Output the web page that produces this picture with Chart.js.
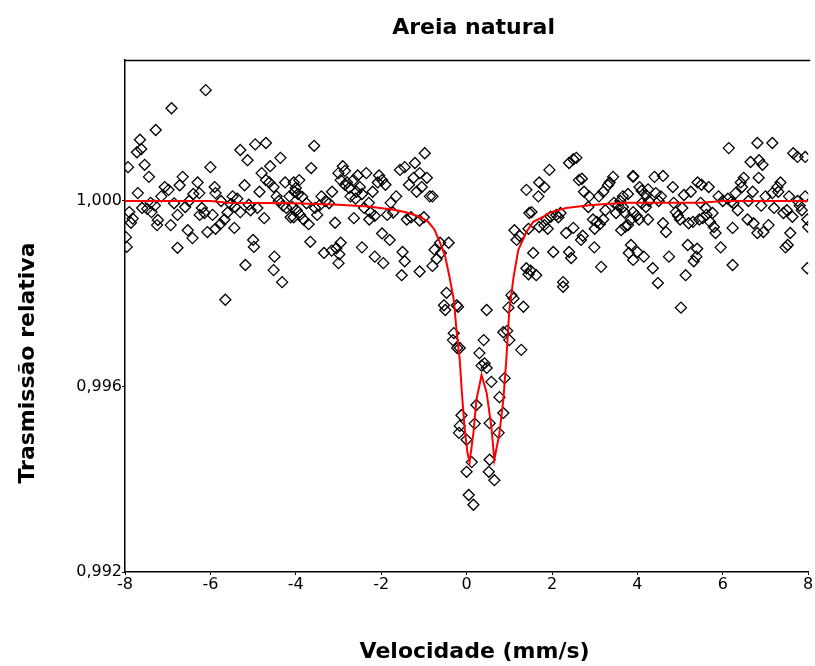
<!DOCTYPE html>
<html>
<head>
<meta charset="utf-8">
<script src="https://cdn.jsdelivr.net/npm/chart.js@4/dist/chart.umd.min.js"></script>
<style>
  body { margin: 0; background: #fff; }
  #wrap { width: 815px; height: 666px; }
</style>
</head>
<body>
<div id="wrap"><canvas id="spectrum" width="815" height="666"></canvas></div>
<script>
// Mossbauer spectrum - natural sand
var chartTitle = "Areia natural";
var xTitle = "Velocidade (mm/s)";
var yTitle = "Trasmissão relativa";

var xTicks = [-8, -6, -4, -2, 0, 2, 4, 6, 8];
var yTicks = [0.992, 0.996, 1.000];

// measured points (velocity mm/s, relative transmission)
var velocity = [
  -6.11,-6.91,-7.28,-7.65,-7.72,-7.62,-7.54,-7.93,-7.44,-7.70,-7.90,-7.82,-7.86,-7.98,-7.96,-7.07,-6.98,-6.65,-6.72,-6.30,
  -6.26,-6.40,-7.40,-7.30,-7.48,-7.38,-7.23,-7.25,-6.93,-6.77,-6.59,-6.53,-6.42,-6.77,-6.25,-6.14,-5.95,-6.07,-5.88,-5.77,
  -5.67,-6.00,-5.90,-5.88,-5.65,-5.48,-5.37,-5.42,-5.52,-5.44,-5.30,-5.20,-5.30,-5.13,-4.95,-4.70,-4.60,-4.36,-4.80,-4.70,
  -4.62,-4.52,-5.06,-4.90,-4.74,-5.00,-4.98,-5.18,-4.50,-4.52,-4.32,-4.40,-4.30,-4.22,-4.12,-4.15,-4.03,
  -3.57,-3.64,-3.92,-4.05,-4.00,-3.95,-3.85,-4.08,-3.98,-4.05,-3.90,-3.82,-3.70,-3.66,-3.55,-3.45,-3.30,-3.22,-3.50,-3.08,
  -3.34,-3.16,-3.05,-2.98,-2.95,-3.00,-3.00,-2.90,-2.85,-2.95,-2.85,-2.75,-2.65,-2.55,-2.35,-2.72,-2.60,-2.45,-2.50,-2.58,
  -2.64,-2.45,-2.15,-1.95,-2.25,-2.15,-2.28,-2.29,-2.05,-1.98,-1.90,-2.08,-1.98,-1.80,-1.78,-1.72,-1.86,-1.56,-1.45,-1.21,
  -0.98,-1.10,-1.24,-0.93,-1.17,-0.86,-0.80,-1.40,-1.30,-1.10,-1.00,-1.50,-1.52,-1.45,-1.10,-0.80,-0.70,-0.60,-0.75,-0.62,
  -0.42,-0.47,-0.23,-0.53,
  -0.50,-0.20,0.47,-0.30,-0.32,-0.22,-0.16,0.40,0.30,0.35,0.42,0.47,0.58,0.89,0.77,0.23,0.19,-0.12,-0.16,-0.18,
  0.54,0.75,0.86,0.00,0.12,0.00,0.54,0.52,0.65,0.05,0.16,0.86,0.95,1.00,1.28,1.05,1.33,
  0.98,1.10,2.26,2.26,1.40,1.50,1.63,1.45,1.56,1.12,1.17,1.24,1.45,1.70,1.82,1.90,2.03,2.33,2.50,2.68,
  2.72,2.40,2.45,1.87,1.97,2.10,2.20,2.15,1.47,1.68,1.82,1.52,1.40,1.70,1.94,2.40,2.57,2.50,2.63,2.70,
  2.87,2.85,2.99,3.15,2.96,3.05,3.00,3.12,3.20,3.10,3.20,3.31,3.35,3.43,3.45,3.50,3.55,3.60,3.66,3.66,
  3.78,3.90,3.62,3.72,3.85,3.80,3.90,
  6.14,6.81,7.16,7.65,7.75,7.93,6.65,6.85,6.93,3.90,4.40,4.60,4.05,4.10,4.20,4.25,4.43,4.50,4.27,4.20,
  3.90,3.98,4.04,4.25,3.78,3.85,4.15,4.00,4.36,4.48,4.74,4.83,5.09,4.85,4.90,5.00,4.95,4.60,4.67,5.02,
  5.13,5.18,5.40,5.32,5.38,5.20,5.30,5.45,5.53,5.62,5.76,5.70,5.79,5.83,5.41,5.50,5.67,5.48,5.95,6.23,
  6.00,6.12,6.20,6.30,6.42,6.49,6.45,6.84,6.70,6.35,6.58,6.72,6.81,6.95,7.07,7.00,7.16,7.28,7.35,7.30,
  6.23,7.42,7.50,7.63,7.47,7.52,7.58,7.75,7.80,7.93,7.98,8.00,7.98,
  -7.60,-7.15,-6.85,-6.50,-6.20,-5.75,-5.60,-5.10,-4.85,-4.45,-4.25,-3.75,-3.40,-3.15,-2.80,-2.40,-2.20,-1.65,-1.35,-1.05,
  2.75,3.25,3.70,4.10,4.55,5.05,5.25,5.60,5.90,6.25,6.60,6.90,7.20,7.55,7.85
];
var transmission = [
  1.00239,1.00200,1.00153,1.00132,1.00105,1.00112,1.00078,1.00073,1.00052,1.00017,0.99976,0.99962,0.99953,0.99922,0.99901,1.00030,1.00024,1.00052,1.00034,1.00040,
  1.00017,1.00015,0.99996,0.99990,0.99983,0.99976,0.99959,0.99948,0.99948,0.99970,0.99987,0.99937,0.99920,0.99899,0.99970,0.99974,0.99970,0.99933,0.99940,0.99950,
  0.99960,1.00073,1.00030,1.00017,0.99787,1.00010,1.00005,0.99987,0.99993,0.99942,0.99976,1.00034,1.00110,1.00088,1.00122,1.00125,1.00075,1.00093,1.00060,1.00045,
  1.00040,1.00030,0.99980,0.99985,0.99963,0.99916,0.99901,0.99862,0.99880,0.99851,0.99825,1.00000,0.99990,0.99985,0.99965,1.00010,1.00020,
  1.00119,1.00071,1.00045,1.00040,1.00028,1.00015,1.00009,0.99987,0.99980,0.99965,0.99970,0.99960,0.99950,0.99912,0.99985,0.99990,1.00000,0.99995,0.99970,0.99953,
  0.99888,0.99893,0.99898,0.99885,0.99910,0.99866,1.00060,1.00075,1.00065,1.00045,1.00035,1.00028,1.00045,1.00055,1.00060,1.00010,1.00005,1.00015,1.00030,1.00020,
  0.99963,0.99900,0.99880,0.99866,0.99975,0.99968,0.99960,0.99996,1.00055,1.00045,1.00035,1.00040,0.99930,0.99916,0.99996,0.99975,0.99970,1.00067,1.00073,1.00082,
  1.00103,1.00060,1.00050,1.00050,1.00020,1.00010,1.00010,0.99960,0.99965,0.99958,0.99965,0.99890,0.99840,0.99870,0.99848,0.99860,0.99875,0.99888,0.99895,0.99910,
  0.99910,0.99802,0.99775,0.99775,
  0.99765,0.99772,0.99765,0.99715,0.99700,0.99683,0.99683,0.99700,0.99672,0.99645,0.99650,0.99640,0.99610,0.99618,0.99577,0.99560,0.99520,0.99538,0.99515,0.99500,
  0.99521,0.99500,0.99543,0.99485,0.99437,0.99416,0.99442,0.99416,0.99398,0.99366,0.99345,0.99717,0.99720,0.99700,0.99679,0.99797,0.99772,
  0.99770,0.99790,0.99825,0.99815,0.99855,0.99850,0.99840,0.99842,0.99888,0.99937,0.99916,0.99925,0.99940,0.99944,0.99948,0.99940,0.99890,0.99931,0.99942,0.99916,
  0.99925,0.99890,0.99877,0.99960,0.99966,0.99970,0.99974,0.99965,0.99974,1.00010,1.00030,0.99976,1.00024,1.00040,1.00067,1.00082,1.00093,1.00090,1.00045,1.00048,
  1.00010,0.99987,0.99900,0.99858,0.99960,0.99955,0.99940,0.99950,0.99960,1.00010,1.00020,1.00034,1.00040,1.00052,0.99996,0.99974,0.99990,1.00000,0.99987,1.00010,
  1.00015,1.00052,0.99937,0.99945,0.99960,0.99888,0.99873,
  1.00114,1.00125,1.00125,1.00103,1.00095,1.00095,1.00084,1.00088,1.00078,1.00054,1.00052,1.00054,1.00030,1.00022,1.00013,1.00025,1.00017,1.00000,1.00000,0.99987,
  0.99976,0.99968,0.99960,0.99960,0.99948,0.99905,0.99880,0.99890,0.99855,0.99823,0.99880,1.00030,1.00013,0.99996,0.99976,0.99960,0.99968,0.99952,0.99933,0.99770,
  0.99840,0.99905,0.99897,0.99870,0.99880,0.99952,0.99955,0.99960,0.99963,0.99970,0.99974,0.99955,0.99944,0.99931,1.00040,1.00035,1.00030,0.99996,0.99900,0.99862,
  1.00000,1.00005,0.99998,1.00017,1.00040,1.00050,1.00030,1.00050,1.00020,0.99980,0.99960,0.99952,0.99931,0.99933,0.99948,1.00010,1.00017,1.00030,1.00040,1.00020,
  0.99942,0.99974,0.99980,0.99966,0.99900,0.99905,0.99931,1.00000,0.99990,1.00010,0.99960,0.99944,0.99855,
  0.99985,1.00010,0.99995,1.00000,0.99985,1.00000,0.99975,0.99992,1.00020,1.00010,1.00040,0.99995,1.00010,1.00020,1.00040,0.99985,1.00020,1.00010,1.00035,1.00030,
  1.00020,0.99980,0.99975,0.99995,1.00010,0.99985,1.00020,0.99985,1.00010,0.99995,1.00000,0.99990,0.99985,1.00010,0.99980
];

// fitted doublet curve as drawn in the figure
var fitVelocity = [-8, -6, -5.6, -4, -3, -2.3, -1.7, -1.4, -1.1, -0.9, -0.75, -0.6, -0.5, -0.4, -0.3, -0.23, -0.16, -0.12, -0.05, 0.02,
  0.07, 0.16, 0.23, 0.35, 0.47, 0.58, 0.65, 0.77, 0.86, 0.93, 1.0, 1.1, 1.21, 1.4, 1.56, 1.8, 1.94, 2.33, 2.87, 3.66, 5.5, 6.0, 8];
var fitTransmission = [1.00000, 1.00000, 0.99996, 0.99995, 0.99992, 0.99988, 0.99981, 0.99975, 0.99966, 0.99955, 0.99938, 0.99905, 0.99880, 0.99836, 0.99787, 0.99715, 0.99657, 0.99599, 0.99513, 0.99457,
  0.99437, 0.99500, 0.99571, 0.99625, 0.99586, 0.99513, 0.99442, 0.99500, 0.99571, 0.99657, 0.99765, 0.99836, 0.99894, 0.99933, 0.99955, 0.99966, 0.99975, 0.99985, 0.99991, 0.99996, 0.99996, 1.00000, 1.00000];

var pointData = velocity.map(function(v, i){ return {x: v, y: transmission[i]}; });
var fitData = fitVelocity.map(function(v, i){ return {x: v, y: fitTransmission[i]}; });

var titleFont = 'bold 22px "DejaVu Sans"';

var titlesPlugin = {
  id: 'titles',
  afterDraw: function(chart){
    var ctx = chart.ctx;
    var area = chart.chartArea;
    var midX = (area.left + area.right) / 2 + 7;
    ctx.save();
    // top frame line
    ctx.strokeStyle = '#000';
    ctx.lineWidth = 1.5;
    ctx.beginPath();
    ctx.moveTo(area.left, area.top + 0.5);
    ctx.lineTo(area.right + 2, area.top + 0.5);
    ctx.stroke();

    ctx.fillStyle = '#000';
    ctx.font = titleFont;
    ctx.textAlign = 'center';
    ctx.textBaseline = 'alphabetic';
    ctx.fillText(chartTitle, midX, 34);
    ctx.fillText(xTitle, midX + 1, 658);
    ctx.translate(34, 363);
    ctx.rotate(-Math.PI / 2);
    ctx.fillText(yTitle, 0, 0);
    ctx.restore();
  }
};

var tickFont = {family: 'DejaVu Sans', size: 16};

var spectrumConfig = {
  type: 'scatter',
  data: {
    datasets: [{
      label: 'ajuste',
      data: fitData,
      showLine: true,
      borderColor: '#ff0000',
      borderWidth: 2,
      pointRadius: 0,
      tension: 0,
      fill: false
    }, {
      label: 'dados',
      data: pointData,
      showLine: false,
      pointStyle: 'rectRot',
      pointRadius: 5.5,
      pointBorderWidth: 1.3,
      pointBorderColor: '#000',
      pointBackgroundColor: 'rgba(0,0,0,0)'
    }]
  },
  options: {
    responsive: false,
    animation: false,
    layout: { padding: { top: 60, right: 2, left: 0, bottom: 0 } },
    plugins: {
      legend: { display: false },
      tooltip: { enabled: false },
      title: { display: false }
    },
    scales: {
      x: {
        type: 'linear',
        min: -8,
        max: 8,
        afterBuildTicks: function(scale){ scale.ticks = xTicks.map(function(v){ return {value: v}; }); },
        afterFit: function(scale){ scale.height = 94; },
        grid: { drawOnChartArea: false, drawTicks: true, tickLength: 3, color: '#000' },
        border: { color: '#000', width: 1.5 },
        ticks: {
          color: '#000',
          font: tickFont,
          padding: 0,
          maxRotation: 0,
          autoSkip: false,
          callback: function(v){ return String(v); }
        }
      },
      y: {
        type: 'linear',
        min: 0.992,
        max: 1.00304,
        afterBuildTicks: function(scale){ scale.ticks = yTicks.map(function(v){ return {value: v}; }); },
        afterFit: function(scale){ scale.width = 125; },
        grid: { drawOnChartArea: false, drawTicks: true, tickLength: 3, color: '#000' },
        border: { color: '#000', width: 1.5 },
        ticks: {
          color: '#000',
          font: tickFont,
          padding: 0,
          callback: function(v){ return v.toFixed(3).replace('.', ','); }
        }
      }
    }
  },
  plugins: [titlesPlugin]
};

var spectrumCtx = document.getElementById('spectrum');
var spectrumChart = new Chart(spectrumCtx, spectrumConfig);
</script>
</body>
</html>
